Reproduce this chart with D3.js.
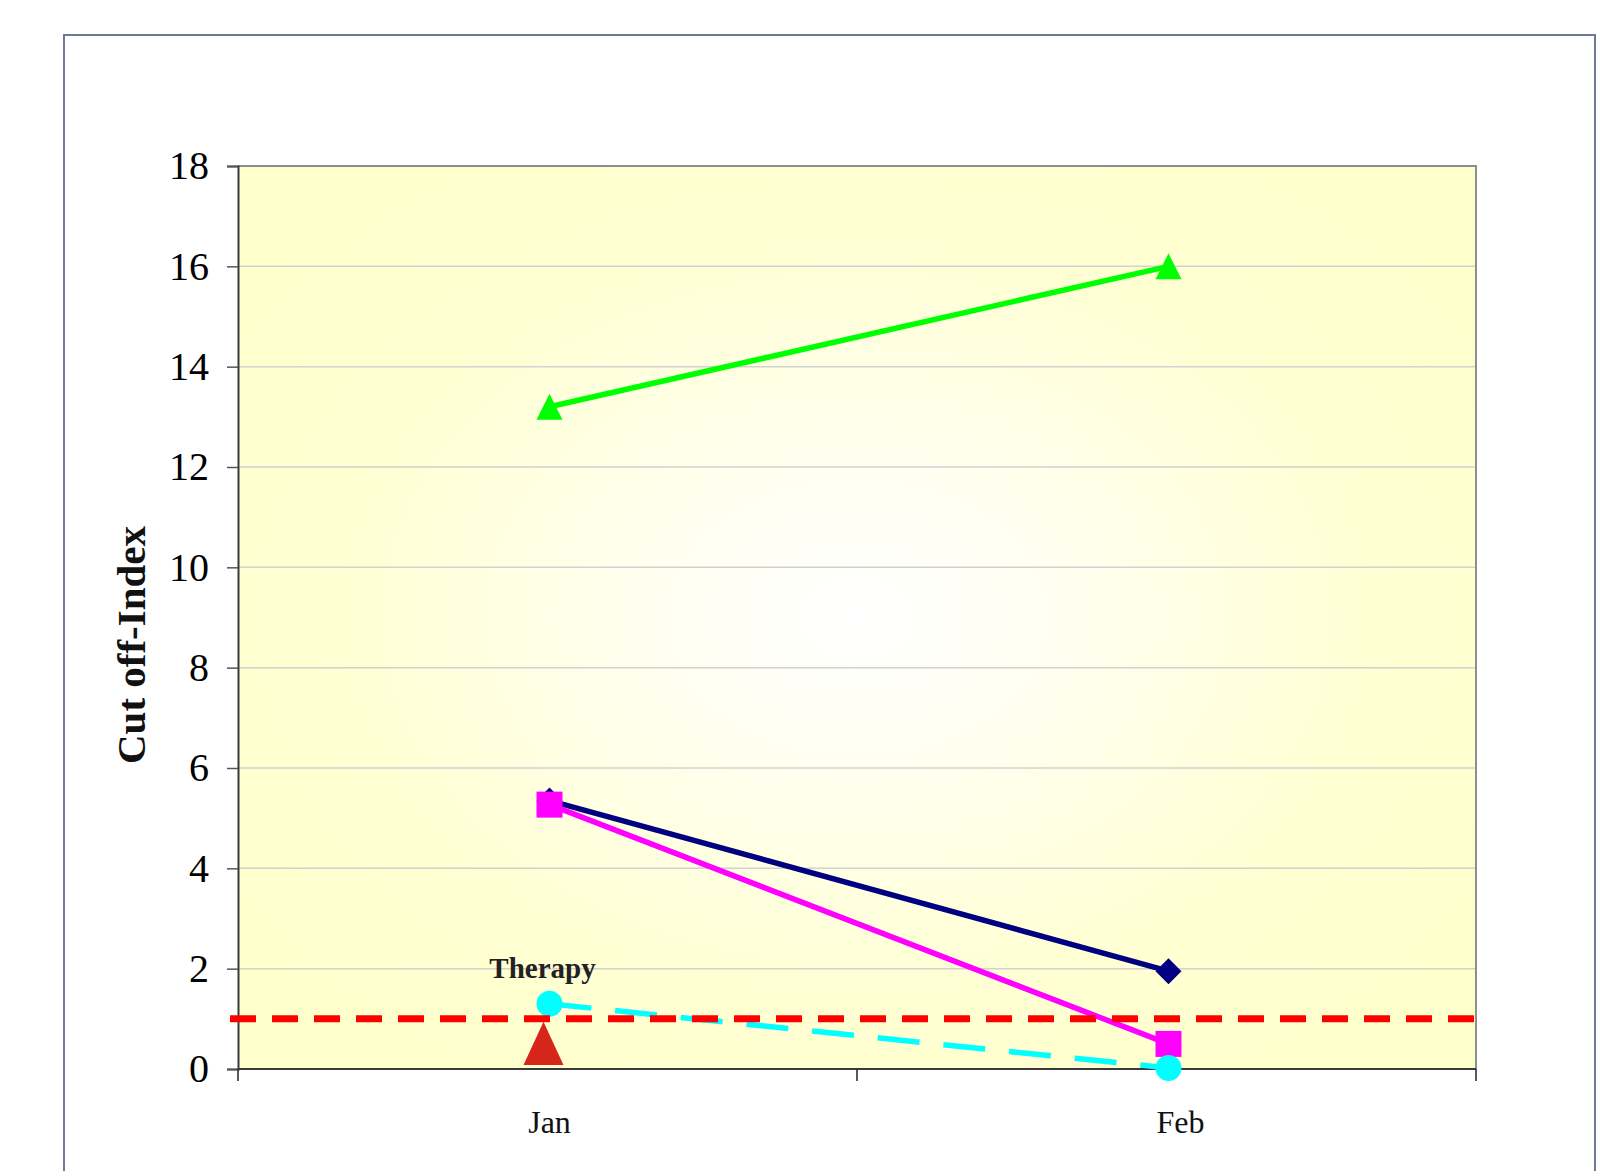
<!DOCTYPE html>
<html>
<head>
<meta charset="utf-8">
<script src="https://cdn.jsdelivr.net/npm/d3@7"></script>
<style>
  html, body { margin: 0; padding: 0; background: #fff; }
  svg { display: block; }
</style>
</head>
<body>
<svg id="chart" width="1601" height="1171"></svg>
<script>
// Months on the category axis
const categories = ["Jan", "Feb"];
// Cut off-Index per series
const navyValues = [5.35, 1.95];
const magentaValues = [5.27, 0.5];
const greenValues = [13.2, 16.0];
const cyanValues = [1.3, 0.02];
// Cut-off threshold line
const cutoff = 1.0;
// Y tick labels
const yTicks = [0, 2, 4, 6, 8, 10, 12, 14, 16, 18];
const therapyLabel = "Therapy";

const svg = d3.select("#chart");
const m = { left: 238, right: 1476, top: 166, bottom: 1069 };

const x = d3.scaleBand().domain(categories).range([m.left, m.right]).padding(0);
const y = d3.scaleLinear().domain([0, 18]).range([m.bottom, m.top]);
const cx = d => x(d) + x.bandwidth() / 2 + 2;

// Outer chart frame (runs off the bottom of the page)
svg.append("rect")
  .attr("x", 64).attr("y", 35).attr("width", 1531).attr("height", 1200)
  .attr("fill", "#fff").attr("stroke", "#6f7b95").attr("stroke-width", 2);

// Plot area fill: white centre fading to pale yellow
const defs = svg.append("defs");
const grad = defs.append("radialGradient").attr("id", "plotFill")
  .attr("cx", "50%").attr("cy", "50%").attr("r", "60%");
grad.append("stop").attr("offset", "0%").attr("stop-color", "#ffffff");
grad.append("stop").attr("offset", "28%").attr("stop-color", "#fffff0");
grad.append("stop").attr("offset", "70%").attr("stop-color", "#ffffd3");
grad.append("stop").attr("offset", "100%").attr("stop-color", "#ffffcc");

svg.append("rect")
  .attr("x", m.left).attr("y", m.top)
  .attr("width", m.right - m.left).attr("height", m.bottom - m.top)
  .attr("fill", "url(#plotFill)");

// Horizontal gridlines
svg.append("g").selectAll("line")
  .data(yTicks.filter(t => t > 0 && t < 18))
  .join("line")
  .attr("x1", m.left).attr("x2", m.right)
  .attr("y1", d => y(d)).attr("y2", d => y(d))
  .attr("stroke", "#d2d2d2").attr("stroke-width", 1.5);

// Top and right plot border
svg.append("path")
  .attr("d", `M${m.left},${m.top}H${m.right}V${m.bottom}`)
  .attr("fill", "none").attr("stroke", "#8e8e8e").attr("stroke-width", 2);

// Y axis
const yAxis = d3.axisLeft(y).tickValues(yTicks).tickSize(11).tickPadding(18);
const gy = svg.append("g").attr("transform", `translate(${m.left},0)`).call(yAxis);
gy.select(".domain").attr("stroke", "#3a3a3a").attr("stroke-width", 2);
gy.selectAll(".tick line").attr("stroke", "#555").attr("stroke-width", 1.5);
gy.selectAll(".tick text")
  .attr("font-family", "'Liberation Serif', 'Times New Roman', serif")
  .attr("font-size", 40).attr("fill", "#000");

// X axis: ticks sit on the category boundaries
const gx = svg.append("g").attr("transform", `translate(0,${m.bottom})`);
gx.append("line").attr("x1", m.left).attr("x2", m.right)
  .attr("stroke", "#3a3a3a").attr("stroke-width", 2);
const bounds = categories.map(c => x(c)).concat([m.right]);
gx.selectAll("line.tk").data(bounds).join("line").attr("class", "tk")
  .attr("x1", d => d).attr("x2", d => d).attr("y1", 0).attr("y2", 12)
  .attr("stroke", "#222").attr("stroke-width", 1.5);
gx.selectAll("text").data(categories).join("text")
  .attr("x", (d, i) => cx(d) + (i === 1 ? 12 : 0))
  .attr("y", 64)
  .attr("text-anchor", "middle")
  .attr("font-family", "'Liberation Serif', 'Times New Roman', serif")
  .attr("font-size", 32).attr("fill", "#111")
  .text(d => d);

// Y axis title
svg.append("text")
  .attr("transform", "translate(145,645) rotate(-90)")
  .attr("text-anchor", "middle")
  .attr("font-family", "'Liberation Serif', 'Times New Roman', serif")
  .attr("font-weight", "bold").attr("font-size", 41).attr("fill", "#111")
  .text("Cut off-Index");

// Marker shapes, centred on the data point
const shapes = {
  diamond: r => `M0,${-r}L${r},0L0,${r}L${-r},0Z`,
  square: r => `M${-r},${-r}H${r}V${r}H${-r}Z`,
  triangle: r => `M0,${-r}L${r},${r}H${-r}Z`,
  circle: r => `M${-r},0A${r},${r} 0 1,0 ${r},0A${r},${r} 0 1,0 ${-r},0Z`
};

const series = [
  { values: navyValues, color: "#000080", shape: "diamond", dash: null, width: 5.5 },
  { values: magentaValues, color: "#ff00ff", shape: "square", dash: null, width: 5.5 },
  { values: greenValues, color: "#00ff00", shape: "triangle", dash: null, width: 5.5 },
  { values: cyanValues, color: "#00ffff", shape: "circle", dash: "42,24", width: 5.5 }
];

const line = d3.line().x(d => cx(d.c)).y(d => y(d.v));

series.forEach(s => {
  const pts = categories.map((c, i) => ({ c, v: s.values[i] }));
  svg.append("path").datum(pts)
    .attr("d", line).attr("fill", "none")
    .attr("stroke", s.color).attr("stroke-width", s.width)
    .attr("stroke-dasharray", s.dash);
});

series.forEach(s => {
  const pts = categories.map((c, i) => ({ c, v: s.values[i] }));
  svg.append("g").selectAll("path").data(pts).join("path")
    .attr("transform", d => `translate(${cx(d.c)},${y(d.v)})`)
    .attr("d", shapes[s.shape](13))
    .attr("fill", s.color);
});

// Therapy start marker below the threshold
const tx = cx(categories[0]) - 6;
svg.append("path")
  .attr("d", `M${tx},${y(cutoff) + 3}L${tx + 20},${y(0) - 4}H${tx - 20}Z`)
  .attr("fill", "#d6261c");

// Cut-off threshold
svg.append("line")
  .attr("x1", m.left - 8).attr("x2", m.right)
  .attr("y1", y(cutoff)).attr("y2", y(cutoff))
  .attr("stroke", "#ff0000").attr("stroke-width", 7)
  .attr("stroke-dasharray", "26,16");

svg.append("text")
  .attr("x", cx(categories[0]) - 7)
  .attr("y", y(cyanValues[0]) - 26)
  .attr("text-anchor", "middle")
  .attr("font-family", "'Liberation Serif', 'Times New Roman', serif")
  .attr("font-weight", "bold").attr("font-size", 29).attr("fill", "#222")
  .text(therapyLabel);
</script>
</body>
</html>
